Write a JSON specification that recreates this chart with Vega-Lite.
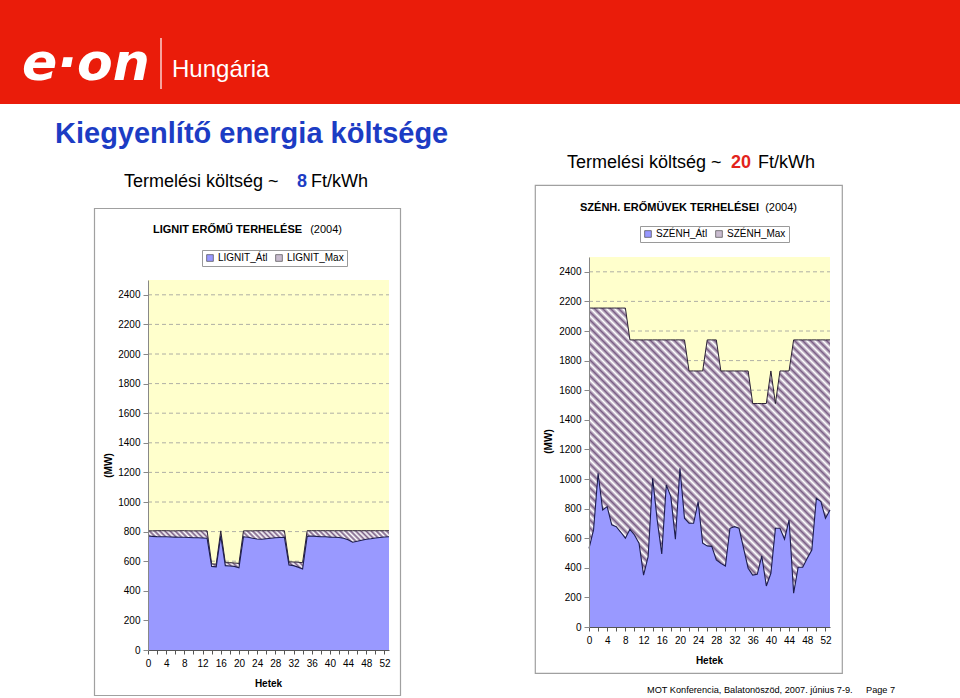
{
"$schema": "https://vega.github.io/schema/vega-lite/v6.json",
"padding": 0,
"background": "white",
"config": {
  "view": {"stroke": null},
  "font": "Liberation Sans",
  "axis": {"labelColor": "#000", "titleColor": "#000", "labelFont": "Liberation Sans", "titleFont": "Liberation Sans", "labelOverlap": false, "labelFontSize": 10, "titleFontSize": 10, "titleFontWeight": "bold", "grid": false},
  "axisX": {"domainColor": "#555", "tickColor": "#555"},
  "axisY": {"domainColor": "#888", "tickColor": "#888"},
  "legend": {"labelFont": "Liberation Sans"}
},
"datasets": {
  "lignit": [
    {"week":0,"max":805,"atl":770},{"week":1,"max":805,"atl":768},{"week":2,"max":806,"atl":766},{"week":3,"max":806,"atl":765},
    {"week":4,"max":806,"atl":765},{"week":5,"max":805,"atl":764},{"week":6,"max":805,"atl":763},{"week":7,"max":806,"atl":762},
    {"week":8,"max":806,"atl":762},{"week":9,"max":805,"atl":760},{"week":10,"max":805,"atl":758},{"week":11,"max":805,"atl":758},
    {"week":12,"max":805,"atl":757},{"week":13,"max":805,"atl":755},{"week":14,"max":582,"atl":565},{"week":15,"max":580,"atl":562},
    {"week":16,"max":805,"atl":770},{"week":17,"max":590,"atl":570},{"week":18,"max":590,"atl":568},{"week":19,"max":588,"atl":565},
    {"week":20,"max":585,"atl":555},{"week":21,"max":805,"atl":765},{"week":22,"max":805,"atl":762},{"week":23,"max":805,"atl":755},
    {"week":24,"max":806,"atl":750},{"week":25,"max":806,"atl":748},{"week":26,"max":806,"atl":752},{"week":27,"max":806,"atl":755},
    {"week":28,"max":806,"atl":758},{"week":29,"max":806,"atl":760},{"week":30,"max":806,"atl":762},{"week":31,"max":595,"atl":575},
    {"week":32,"max":595,"atl":570},{"week":33,"max":593,"atl":560},{"week":34,"max":590,"atl":548},{"week":35,"max":806,"atl":768},
    {"week":36,"max":806,"atl":770},{"week":37,"max":806,"atl":768},{"week":38,"max":806,"atl":765},{"week":39,"max":806,"atl":765},
    {"week":40,"max":806,"atl":763},{"week":41,"max":806,"atl":762},{"week":42,"max":806,"atl":760},{"week":43,"max":806,"atl":755},
    {"week":44,"max":806,"atl":745},{"week":45,"max":806,"atl":728},{"week":46,"max":806,"atl":735},{"week":47,"max":806,"atl":742},
    {"week":48,"max":806,"atl":748},{"week":49,"max":806,"atl":752},{"week":50,"max":806,"atl":757},{"week":51,"max":806,"atl":760},
    {"week":52,"max":806,"atl":763},{"week":53,"max":806,"atl":765}
  ],
  "szenh": [
    {"week":0,"max":2155,"atl":532},{"week":1,"max":2155,"atl":656},{"week":2,"max":2155,"atl":1039},{"week":3,"max":2155,"atl":791},
    {"week":4,"max":2155,"atl":813},{"week":5,"max":2155,"atl":690},{"week":6,"max":2155,"atl":678},{"week":7,"max":2155,"atl":640},
    {"week":8,"max":2155,"atl":600},{"week":9,"max":1940,"atl":660},{"week":10,"max":1940,"atl":622},{"week":11,"max":1940,"atl":566},
    {"week":12,"max":1940,"atl":351},{"week":13,"max":1940,"atl":475},{"week":14,"max":1940,"atl":1005},{"week":15,"max":1940,"atl":723},
    {"week":16,"max":1940,"atl":494},{"week":17,"max":1940,"atl":960},{"week":18,"max":1940,"atl":881},{"week":19,"max":1940,"atl":593},
    {"week":20,"max":1940,"atl":1073},{"week":21,"max":1940,"atl":735},{"week":22,"max":1730,"atl":701},{"week":23,"max":1730,"atl":701},
    {"week":24,"max":1730,"atl":847},{"week":25,"max":1730,"atl":566},{"week":26,"max":1940,"atl":548},{"week":27,"max":1940,"atl":545},
    {"week":28,"max":1940,"atl":453},{"week":29,"max":1730,"atl":430},{"week":30,"max":1730,"atl":412},{"week":31,"max":1730,"atl":667},
    {"week":32,"max":1730,"atl":678},{"week":33,"max":1730,"atl":667},{"week":34,"max":1730,"atl":532},{"week":35,"max":1730,"atl":397},
    {"week":36,"max":1510,"atl":351},{"week":37,"max":1510,"atl":356},{"week":38,"max":1510,"atl":480},{"week":39,"max":1510,"atl":277},
    {"week":40,"max":1730,"atl":363},{"week":41,"max":1510,"atl":667},{"week":42,"max":1730,"atl":667},{"week":43,"max":1730,"atl":593},
    {"week":44,"max":1730,"atl":723},{"week":45,"max":1940,"atl":228},{"week":46,"max":1940,"atl":404},{"week":47,"max":1940,"atl":404},
    {"week":48,"max":1940,"atl":464},{"week":49,"max":1940,"atl":520},{"week":50,"max":1940,"atl":870},{"week":51,"max":1940,"atl":847},
    {"week":52,"max":1940,"atl":735},{"week":53,"max":1940,"atl":791}
  ],
  "grid": [{"g":200},{"g":400},{"g":600},{"g":800},{"g":1000},{"g":1200},{"g":1400},{"g":1600},{"g":1800},{"g":2000},{"g":2200},{"g":2400}]
},
"spacing": 81,
"bounds": "flush",
"resolve": {"scale": {"color": "independent"}, "legend": {"color": "independent"}},
"vconcat": [
  {
    "width": 960, "height": 104,
    "view": {"fill": "#ea1c0a", "stroke": null},
    "layer": [
      {"data": {"values": [{}]}, "mark": {"type": "text", "text": "e·on", "font": "DejaVu Sans", "fontSize": 52, "fontWeight": "bold", "fontStyle": "italic", "color": "#ffffff", "align": "left", "baseline": "alphabetic"}, "encoding": {"x": {"value": 22}, "y": {"value": 80}}},
      {"data": {"values": [{}]}, "mark": {"type": "rule", "color": "#ffffff", "strokeWidth": 1.2}, "encoding": {"x": {"value": 161}, "y": {"value": 38}, "y2": {"value": 89}}},
      {"data": {"values": [{}]}, "mark": {"type": "text", "text": "Hungária", "fontSize": 24, "color": "#ffffff", "align": "left", "baseline": "alphabetic"}, "encoding": {"x": {"value": 172}, "y": {"value": 77}}}
    ]
  },
  {
    "spacing": 0,
    "bounds": "flush",
    "resolve": {"scale": {"color": "independent"}, "legend": {"color": "independent"}},
    "hconcat": [
      {"width": 94, "height": 1, "data": {"values": []}, "mark": "text"},
      {
        "width": 307, "height": 511,
        "layer": [
          {"data": {"values": [{}]}, "mark": {"type": "rect", "fill": "transparent", "stroke": "#a0a0a0", "strokeWidth": 1.2, "clip": false},
           "encoding": {
             "x": {"datum": -11.766, "type": "quantitative", "title": "Hetek", "scale": {"domain": [0, 53], "range": [54, 295], "nice": false, "zero": false},
               "axis": {"orient": "bottom", "offset": -46, "values": [0,2,4,6,8,10,12,14,16,18,20,22,24,26,28,30,32,34,36,38,40,42,44,46,48,50,52], "labelExpr": "datum.value % 4 === 0 ? datum.label : ''", "labelOverlap": false, "labelFlush": false, "tickSize": 4, "labelPadding": 4, "titleX": 174, "titleY": 36, "titleAlign": "center", "titleBaseline": "alphabetic", "zindex": 1}},
             "x2": {"datum": 55.529},
             "y": {"datum": -307.4, "type": "quantitative", "title": "(MW)", "scale": {"domain": [0, 2500], "range": [465, 95], "nice": false},
               "axis": {"orient": "left", "offset": -54, "values": [0,200,400,600,800,1000,1200,1400,1600,1800,2000,2200,2400], "format": "d", "tickSize": 5, "labelPadding": 3, "titleAngle": 270, "titleX": -40, "titleY": 280, "titleAlign": "center", "titleBaseline": "middle", "zindex": 1}},
             "y2": {"datum": 2983.1}}},
          {"data": {"values": [{}]}, "mark": {"type": "rect", "color": "#ffffcc"},
           "encoding": {
             "x": {"datum": 0, "type": "quantitative", "title": "Hetek",
               "axis": {"orient": "bottom", "offset": -46, "values": [0,2,4,6,8,10,12,14,16,18,20,22,24,26,28,30,32,34,36,38,40,42,44,46,48,50,52], "labelExpr": "datum.value % 4 === 0 ? datum.label : ''", "labelOverlap": false, "labelFlush": false, "tickSize": 4, "labelPadding": 4, "titleX": 174, "titleY": 36, "titleAlign": "center", "titleBaseline": "alphabetic", "zindex": 1}},
             "x2": {"datum": 53},
             "y": {"datum": 0, "type": "quantitative", "title": "(MW)",
               "axis": {"orient": "left", "offset": -54, "values": [0,200,400,600,800,1000,1200,1400,1600,1800,2000,2200,2400], "format": "d", "tickSize": 5, "labelPadding": 3, "titleAngle": 270, "titleX": -40, "titleY": 280, "titleAlign": "center", "titleBaseline": "middle", "zindex": 1}},
             "y2": {"datum": 2500}}},
          {"data": {"name": "grid"}, "mark": {"type": "rule", "color": "#9a9a9a", "strokeDash": [4,3], "strokeWidth": 0.8},
           "encoding": {
             "y": {"field": "g", "type": "quantitative", "title": "(MW)",
               "axis": {"orient": "left", "offset": -54, "values": [0,200,400,600,800,1000,1200,1400,1600,1800,2000,2200,2400], "format": "d", "tickSize": 5, "labelPadding": 3, "titleAngle": 270, "titleX": -40, "titleY": 280, "titleAlign": "center", "titleBaseline": "middle", "zindex": 1}},
             "x": {"datum": 0, "type": "quantitative", "title": "Hetek",
               "axis": {"orient": "bottom", "offset": -46, "values": [0,2,4,6,8,10,12,14,16,18,20,22,24,26,28,30,32,34,36,38,40,42,44,46,48,50,52], "labelExpr": "datum.value % 4 === 0 ? datum.label : ''", "labelOverlap": false, "labelFlush": false, "tickSize": 4, "labelPadding": 4, "titleX": 174, "titleY": 36, "titleAlign": "center", "titleBaseline": "alphabetic", "zindex": 1}},
             "x2": {"datum": 53}}},
          {"data": {"name": "lignit"},
           "mark": {"type": "area", "fill": {"gradient": "linear", "x1": 0, "y1": 1, "x2": 1.2003, "y2": 0.4023, "stops": [
{"offset":0,"color":"#fff"},{"offset":0.00714,"color":"#7b5f86"},{"offset":0.01429,"color":"#fff"},{"offset":0.02143,"color":"#7b5f86"},{"offset":0.02857,"color":"#fff"},{"offset":0.03571,"color":"#7b5f86"},{"offset":0.04286,"color":"#fff"},{"offset":0.05,"color":"#7b5f86"},{"offset":0.05714,"color":"#fff"},{"offset":0.06429,"color":"#7b5f86"},{"offset":0.07143,"color":"#fff"},{"offset":0.07857,"color":"#7b5f86"},{"offset":0.08571,"color":"#fff"},{"offset":0.09286,"color":"#7b5f86"},
{"offset":0.1,"color":"#fff"},{"offset":0.10714,"color":"#7b5f86"},{"offset":0.11429,"color":"#fff"},{"offset":0.12143,"color":"#7b5f86"},{"offset":0.12857,"color":"#fff"},{"offset":0.13571,"color":"#7b5f86"},{"offset":0.14286,"color":"#fff"},{"offset":0.15,"color":"#7b5f86"},{"offset":0.15714,"color":"#fff"},{"offset":0.16429,"color":"#7b5f86"},{"offset":0.17143,"color":"#fff"},{"offset":0.17857,"color":"#7b5f86"},{"offset":0.18571,"color":"#fff"},{"offset":0.19286,"color":"#7b5f86"},
{"offset":0.2,"color":"#fff"},{"offset":0.20714,"color":"#7b5f86"},{"offset":0.21429,"color":"#fff"},{"offset":0.22143,"color":"#7b5f86"},{"offset":0.22857,"color":"#fff"},{"offset":0.23571,"color":"#7b5f86"},{"offset":0.24286,"color":"#fff"},{"offset":0.25,"color":"#7b5f86"},{"offset":0.25714,"color":"#fff"},{"offset":0.26429,"color":"#7b5f86"},{"offset":0.27143,"color":"#fff"},{"offset":0.27857,"color":"#7b5f86"},{"offset":0.28571,"color":"#fff"},{"offset":0.29286,"color":"#7b5f86"},
{"offset":0.3,"color":"#fff"},{"offset":0.30714,"color":"#7b5f86"},{"offset":0.31429,"color":"#fff"},{"offset":0.32143,"color":"#7b5f86"},{"offset":0.32857,"color":"#fff"},{"offset":0.33571,"color":"#7b5f86"},{"offset":0.34286,"color":"#fff"},{"offset":0.35,"color":"#7b5f86"},{"offset":0.35714,"color":"#fff"},{"offset":0.36429,"color":"#7b5f86"},{"offset":0.37143,"color":"#fff"},{"offset":0.37857,"color":"#7b5f86"},{"offset":0.38571,"color":"#fff"},{"offset":0.39286,"color":"#7b5f86"},
{"offset":0.4,"color":"#fff"},{"offset":0.40714,"color":"#7b5f86"},{"offset":0.41429,"color":"#fff"},{"offset":0.42143,"color":"#7b5f86"},{"offset":0.42857,"color":"#fff"},{"offset":0.43571,"color":"#7b5f86"},{"offset":0.44286,"color":"#fff"},{"offset":0.45,"color":"#7b5f86"},{"offset":0.45714,"color":"#fff"},{"offset":0.46429,"color":"#7b5f86"},{"offset":0.47143,"color":"#fff"},{"offset":0.47857,"color":"#7b5f86"},{"offset":0.48571,"color":"#fff"},{"offset":0.49286,"color":"#7b5f86"},
{"offset":0.5,"color":"#fff"},{"offset":0.50714,"color":"#7b5f86"},{"offset":0.51429,"color":"#fff"},{"offset":0.52143,"color":"#7b5f86"},{"offset":0.52857,"color":"#fff"},{"offset":0.53571,"color":"#7b5f86"},{"offset":0.54286,"color":"#fff"},{"offset":0.55,"color":"#7b5f86"},{"offset":0.55714,"color":"#fff"},{"offset":0.56429,"color":"#7b5f86"},{"offset":0.57143,"color":"#fff"},{"offset":0.57857,"color":"#7b5f86"},{"offset":0.58571,"color":"#fff"},{"offset":0.59286,"color":"#7b5f86"},
{"offset":0.6,"color":"#fff"},{"offset":0.60714,"color":"#7b5f86"},{"offset":0.61429,"color":"#fff"},{"offset":0.62143,"color":"#7b5f86"},{"offset":0.62857,"color":"#fff"},{"offset":0.63571,"color":"#7b5f86"},{"offset":0.64286,"color":"#fff"},{"offset":0.65,"color":"#7b5f86"},{"offset":0.65714,"color":"#fff"},{"offset":0.66429,"color":"#7b5f86"},{"offset":0.67143,"color":"#fff"},{"offset":0.67857,"color":"#7b5f86"},{"offset":0.68571,"color":"#fff"},{"offset":0.69286,"color":"#7b5f86"},
{"offset":0.7,"color":"#fff"},{"offset":0.70714,"color":"#7b5f86"},{"offset":0.71429,"color":"#fff"},{"offset":0.72143,"color":"#7b5f86"},{"offset":0.72857,"color":"#fff"},{"offset":0.73571,"color":"#7b5f86"},{"offset":0.74286,"color":"#fff"},{"offset":0.75,"color":"#7b5f86"},{"offset":0.75714,"color":"#fff"},{"offset":0.76429,"color":"#7b5f86"},{"offset":0.77143,"color":"#fff"},{"offset":0.77857,"color":"#7b5f86"},{"offset":0.78571,"color":"#fff"},{"offset":0.79286,"color":"#7b5f86"},
{"offset":0.8,"color":"#fff"},{"offset":0.80714,"color":"#7b5f86"},{"offset":0.81429,"color":"#fff"},{"offset":0.82143,"color":"#7b5f86"},{"offset":0.82857,"color":"#fff"},{"offset":0.83571,"color":"#7b5f86"},{"offset":0.84286,"color":"#fff"},{"offset":0.85,"color":"#7b5f86"},{"offset":0.85714,"color":"#fff"},{"offset":0.86429,"color":"#7b5f86"},{"offset":0.87143,"color":"#fff"},{"offset":0.87857,"color":"#7b5f86"},{"offset":0.88571,"color":"#fff"},{"offset":0.89286,"color":"#7b5f86"},
{"offset":0.9,"color":"#fff"},{"offset":0.90714,"color":"#7b5f86"},{"offset":0.91429,"color":"#fff"},{"offset":0.92143,"color":"#7b5f86"},{"offset":0.92857,"color":"#fff"},{"offset":0.93571,"color":"#7b5f86"},{"offset":0.94286,"color":"#fff"},{"offset":0.95,"color":"#7b5f86"},{"offset":0.95714,"color":"#fff"},{"offset":0.96429,"color":"#7b5f86"},{"offset":0.97143,"color":"#fff"},{"offset":0.97857,"color":"#7b5f86"},{"offset":0.98571,"color":"#fff"},{"offset":0.99286,"color":"#7b5f86"},
{"offset":1,"color":"#fff"}]}},
           "encoding": {
             "x": {"field": "week", "type": "quantitative", "title": "Hetek",
               "axis": {"orient": "bottom", "offset": -46, "values": [0,2,4,6,8,10,12,14,16,18,20,22,24,26,28,30,32,34,36,38,40,42,44,46,48,50,52], "labelExpr": "datum.value % 4 === 0 ? datum.label : ''", "labelOverlap": false, "labelFlush": false, "tickSize": 4, "labelPadding": 4, "titleX": 174, "titleY": 36, "titleAlign": "center", "titleBaseline": "alphabetic", "zindex": 1}},
             "y": {"field": "max", "type": "quantitative", "title": "(MW)",
               "axis": {"orient": "left", "offset": -54, "values": [0,200,400,600,800,1000,1200,1400,1600,1800,2000,2200,2400], "format": "d", "tickSize": 5, "labelPadding": 3, "titleAngle": 270, "titleX": -40, "titleY": 280, "titleAlign": "center", "titleBaseline": "middle", "zindex": 1}}
           }},
          {"data": {"name": "lignit"}, "mark": {"type": "line", "color": "#2b2236", "strokeWidth": 1},
           "encoding": {
             "x": {"field": "week", "type": "quantitative", "title": "Hetek",
               "axis": {"orient": "bottom", "offset": -46, "values": [0,2,4,6,8,10,12,14,16,18,20,22,24,26,28,30,32,34,36,38,40,42,44,46,48,50,52], "labelExpr": "datum.value % 4 === 0 ? datum.label : ''", "labelOverlap": false, "labelFlush": false, "tickSize": 4, "labelPadding": 4, "titleX": 174, "titleY": 36, "titleAlign": "center", "titleBaseline": "alphabetic", "zindex": 1}},
             "y": {"field": "max", "type": "quantitative", "title": "(MW)",
               "axis": {"orient": "left", "offset": -54, "values": [0,200,400,600,800,1000,1200,1400,1600,1800,2000,2200,2400], "format": "d", "tickSize": 5, "labelPadding": 3, "titleAngle": 270, "titleX": -40, "titleY": 280, "titleAlign": "center", "titleBaseline": "middle", "zindex": 1}}}},
          {"data": {"name": "lignit"}, "mark": {"type": "area", "color": "#9999ff"},
           "encoding": {
             "x": {"field": "week", "type": "quantitative", "title": "Hetek",
               "axis": {"orient": "bottom", "offset": -46, "values": [0,2,4,6,8,10,12,14,16,18,20,22,24,26,28,30,32,34,36,38,40,42,44,46,48,50,52], "labelExpr": "datum.value % 4 === 0 ? datum.label : ''", "labelOverlap": false, "labelFlush": false, "tickSize": 4, "labelPadding": 4, "titleX": 174, "titleY": 36, "titleAlign": "center", "titleBaseline": "alphabetic", "zindex": 1}},
             "y": {"field": "atl", "type": "quantitative", "title": "(MW)",
               "axis": {"orient": "left", "offset": -54, "values": [0,200,400,600,800,1000,1200,1400,1600,1800,2000,2200,2400], "format": "d", "tickSize": 5, "labelPadding": 3, "titleAngle": 270, "titleX": -40, "titleY": 280, "titleAlign": "center", "titleBaseline": "middle", "zindex": 1}}}},
          {"data": {"name": "lignit"}, "mark": {"type": "line", "color": "#1d1d4d", "strokeWidth": 1.1},
           "encoding": {
             "x": {"field": "week", "type": "quantitative", "title": "Hetek",
               "axis": {"orient": "bottom", "offset": -46, "values": [0,2,4,6,8,10,12,14,16,18,20,22,24,26,28,30,32,34,36,38,40,42,44,46,48,50,52], "labelExpr": "datum.value % 4 === 0 ? datum.label : ''", "labelOverlap": false, "labelFlush": false, "tickSize": 4, "labelPadding": 4, "titleX": 174, "titleY": 36, "titleAlign": "center", "titleBaseline": "alphabetic", "zindex": 1}},
             "y": {"field": "atl", "type": "quantitative", "title": "(MW)",
               "axis": {"orient": "left", "offset": -54, "values": [0,200,400,600,800,1000,1200,1400,1600,1800,2000,2200,2400], "format": "d", "tickSize": 5, "labelPadding": 3, "titleAngle": 270, "titleX": -40, "titleY": 280, "titleAlign": "center", "titleBaseline": "middle", "zindex": 1}}}},
          {"data": {"values": [{"s": "LIGNIT_Átl"}, {"s": "LIGNIT_Max"}]}, "mark": {"type": "point", "filled": true, "opacity": 0},
           "encoding": {"color": {"field": "s", "type": "nominal",
             "scale": {"domain": ["LIGNIT_Átl", "LIGNIT_Max"], "range": ["#9999ff", "#c9bccf"]},
             "legend": {"orient": "none", "legendX": 108, "legendY": 65, "direction": "horizontal", "title": null, "symbolType": "square", "symbolSize": 45, "symbolOpacity": 1, "symbolStrokeColor": "#333", "symbolStrokeWidth": 0.6, "labelFontSize": 10, "labelColor": "#000", "columnPadding": 6, "padding": 3, "strokeColor": "#9a9a9a", "fillColor": "#ffffff", "labelOffset": 3}}}},
          {"data": {"values": [{}]}, "mark": {"type": "text", "text": "Kiegyenlítő energia költsége", "fontSize": 29, "fontWeight": "bold", "color": "#1c3cc4", "align": "left", "baseline": "alphabetic"}, "encoding": {"x": {"value": -39}, "y": {"value": -42}}},
          {"data": {"values": [{}]}, "mark": {"type": "text", "text": "Termelési költség ~", "fontSize": 18, "color": "#000", "align": "left", "baseline": "alphabetic"}, "encoding": {"x": {"value": 30}, "y": {"value": 2}}},
          {"data": {"values": [{}]}, "mark": {"type": "text", "text": "8", "fontSize": 18, "fontWeight": "bold", "color": "#1c3cc4", "align": "left", "baseline": "alphabetic"}, "encoding": {"x": {"value": 203}, "y": {"value": 2}}},
          {"data": {"values": [{}]}, "mark": {"type": "text", "text": "Ft/kWh", "fontSize": 18, "color": "#000", "align": "left", "baseline": "alphabetic"}, "encoding": {"x": {"value": 217}, "y": {"value": 2}}},
          {"data": {"values": [{}]}, "mark": {"type": "text", "text": "LIGNIT ERŐMŰ TERHELÉSE", "fontSize": 11, "fontWeight": "bold", "color": "#000", "align": "left", "baseline": "alphabetic"}, "encoding": {"x": {"value": 59}, "y": {"value": 48}}},
          {"data": {"values": [{}]}, "mark": {"type": "text", "text": "(2004)", "fontSize": 11, "color": "#000", "align": "right", "baseline": "alphabetic"}, "encoding": {"x": {"value": 248}, "y": {"value": 48}}}
        ]
      },
      {"width": 134, "height": 1, "data": {"values": []}, "mark": "text"},
      {
        "width": 307, "height": 488,
        "view": {"stroke": "#a0a0a0", "strokeWidth": 1.2, "fill": "#ffffff"},
        "layer": [
          {"data": {"values": [{}]}, "mark": {"type": "rect", "color": "#ffffcc"},
           "encoding": {
             "x": {"datum": 0, "type": "quantitative", "title": "Hetek", "scale": {"domain": [0, 53], "range": [54, 295], "nice": false, "zero": false},
               "axis": {"orient": "bottom", "offset": -46, "values": [0,2,4,6,8,10,12,14,16,18,20,22,24,26,28,30,32,34,36,38,40,42,44,46,48,50,52], "labelExpr": "datum.value % 4 === 0 ? datum.label : ''", "labelOverlap": false, "labelFlush": false, "tickSize": 4, "labelPadding": 4, "titleX": 174, "titleY": 36, "titleAlign": "center", "titleBaseline": "alphabetic", "zindex": 1}},
             "x2": {"datum": 53},
             "y": {"datum": 0, "type": "quantitative", "title": "(MW)", "scale": {"domain": [0, 2500], "range": [442, 72], "nice": false},
               "axis": {"orient": "left", "offset": -54, "values": [0,200,400,600,800,1000,1200,1400,1600,1800,2000,2200,2400], "format": "d", "tickSize": 5, "labelPadding": 3, "titleAngle": 270, "titleX": -41, "titleY": 256, "titleAlign": "center", "titleBaseline": "middle", "zindex": 1}},
             "y2": {"datum": 2500}}},
          {"data": {"name": "grid"}, "mark": {"type": "rule", "color": "#9a9a9a", "strokeDash": [4,3], "strokeWidth": 0.8},
           "encoding": {
             "y": {"field": "g", "type": "quantitative", "title": "(MW)",
               "axis": {"orient": "left", "offset": -54, "values": [0,200,400,600,800,1000,1200,1400,1600,1800,2000,2200,2400], "format": "d", "tickSize": 5, "labelPadding": 3, "titleAngle": 270, "titleX": -41, "titleY": 256, "titleAlign": "center", "titleBaseline": "middle", "zindex": 1}},
             "x": {"datum": 0, "type": "quantitative", "title": "Hetek",
               "axis": {"orient": "bottom", "offset": -46, "values": [0,2,4,6,8,10,12,14,16,18,20,22,24,26,28,30,32,34,36,38,40,42,44,46,48,50,52], "labelExpr": "datum.value % 4 === 0 ? datum.label : ''", "labelOverlap": false, "labelFlush": false, "tickSize": 4, "labelPadding": 4, "titleX": 174, "titleY": 36, "titleAlign": "center", "titleBaseline": "alphabetic", "zindex": 1}},
             "x2": {"datum": 53}}},
          {"data": {"name": "szenh"},
           "mark": {"type": "area", "fill": {"gradient": "linear", "x1": 0, "y1": 1, "x2": 0.8445, "y2": -0.1175, "stops": [
{"offset":0,"color":"#fff"},{"offset":0.00714,"color":"#7b5f86"},{"offset":0.01429,"color":"#fff"},{"offset":0.02143,"color":"#7b5f86"},{"offset":0.02857,"color":"#fff"},{"offset":0.03571,"color":"#7b5f86"},{"offset":0.04286,"color":"#fff"},{"offset":0.05,"color":"#7b5f86"},{"offset":0.05714,"color":"#fff"},{"offset":0.06429,"color":"#7b5f86"},{"offset":0.07143,"color":"#fff"},{"offset":0.07857,"color":"#7b5f86"},{"offset":0.08571,"color":"#fff"},{"offset":0.09286,"color":"#7b5f86"},
{"offset":0.1,"color":"#fff"},{"offset":0.10714,"color":"#7b5f86"},{"offset":0.11429,"color":"#fff"},{"offset":0.12143,"color":"#7b5f86"},{"offset":0.12857,"color":"#fff"},{"offset":0.13571,"color":"#7b5f86"},{"offset":0.14286,"color":"#fff"},{"offset":0.15,"color":"#7b5f86"},{"offset":0.15714,"color":"#fff"},{"offset":0.16429,"color":"#7b5f86"},{"offset":0.17143,"color":"#fff"},{"offset":0.17857,"color":"#7b5f86"},{"offset":0.18571,"color":"#fff"},{"offset":0.19286,"color":"#7b5f86"},
{"offset":0.2,"color":"#fff"},{"offset":0.20714,"color":"#7b5f86"},{"offset":0.21429,"color":"#fff"},{"offset":0.22143,"color":"#7b5f86"},{"offset":0.22857,"color":"#fff"},{"offset":0.23571,"color":"#7b5f86"},{"offset":0.24286,"color":"#fff"},{"offset":0.25,"color":"#7b5f86"},{"offset":0.25714,"color":"#fff"},{"offset":0.26429,"color":"#7b5f86"},{"offset":0.27143,"color":"#fff"},{"offset":0.27857,"color":"#7b5f86"},{"offset":0.28571,"color":"#fff"},{"offset":0.29286,"color":"#7b5f86"},
{"offset":0.3,"color":"#fff"},{"offset":0.30714,"color":"#7b5f86"},{"offset":0.31429,"color":"#fff"},{"offset":0.32143,"color":"#7b5f86"},{"offset":0.32857,"color":"#fff"},{"offset":0.33571,"color":"#7b5f86"},{"offset":0.34286,"color":"#fff"},{"offset":0.35,"color":"#7b5f86"},{"offset":0.35714,"color":"#fff"},{"offset":0.36429,"color":"#7b5f86"},{"offset":0.37143,"color":"#fff"},{"offset":0.37857,"color":"#7b5f86"},{"offset":0.38571,"color":"#fff"},{"offset":0.39286,"color":"#7b5f86"},
{"offset":0.4,"color":"#fff"},{"offset":0.40714,"color":"#7b5f86"},{"offset":0.41429,"color":"#fff"},{"offset":0.42143,"color":"#7b5f86"},{"offset":0.42857,"color":"#fff"},{"offset":0.43571,"color":"#7b5f86"},{"offset":0.44286,"color":"#fff"},{"offset":0.45,"color":"#7b5f86"},{"offset":0.45714,"color":"#fff"},{"offset":0.46429,"color":"#7b5f86"},{"offset":0.47143,"color":"#fff"},{"offset":0.47857,"color":"#7b5f86"},{"offset":0.48571,"color":"#fff"},{"offset":0.49286,"color":"#7b5f86"},
{"offset":0.5,"color":"#fff"},{"offset":0.50714,"color":"#7b5f86"},{"offset":0.51429,"color":"#fff"},{"offset":0.52143,"color":"#7b5f86"},{"offset":0.52857,"color":"#fff"},{"offset":0.53571,"color":"#7b5f86"},{"offset":0.54286,"color":"#fff"},{"offset":0.55,"color":"#7b5f86"},{"offset":0.55714,"color":"#fff"},{"offset":0.56429,"color":"#7b5f86"},{"offset":0.57143,"color":"#fff"},{"offset":0.57857,"color":"#7b5f86"},{"offset":0.58571,"color":"#fff"},{"offset":0.59286,"color":"#7b5f86"},
{"offset":0.6,"color":"#fff"},{"offset":0.60714,"color":"#7b5f86"},{"offset":0.61429,"color":"#fff"},{"offset":0.62143,"color":"#7b5f86"},{"offset":0.62857,"color":"#fff"},{"offset":0.63571,"color":"#7b5f86"},{"offset":0.64286,"color":"#fff"},{"offset":0.65,"color":"#7b5f86"},{"offset":0.65714,"color":"#fff"},{"offset":0.66429,"color":"#7b5f86"},{"offset":0.67143,"color":"#fff"},{"offset":0.67857,"color":"#7b5f86"},{"offset":0.68571,"color":"#fff"},{"offset":0.69286,"color":"#7b5f86"},
{"offset":0.7,"color":"#fff"},{"offset":0.70714,"color":"#7b5f86"},{"offset":0.71429,"color":"#fff"},{"offset":0.72143,"color":"#7b5f86"},{"offset":0.72857,"color":"#fff"},{"offset":0.73571,"color":"#7b5f86"},{"offset":0.74286,"color":"#fff"},{"offset":0.75,"color":"#7b5f86"},{"offset":0.75714,"color":"#fff"},{"offset":0.76429,"color":"#7b5f86"},{"offset":0.77143,"color":"#fff"},{"offset":0.77857,"color":"#7b5f86"},{"offset":0.78571,"color":"#fff"},{"offset":0.79286,"color":"#7b5f86"},
{"offset":0.8,"color":"#fff"},{"offset":0.80714,"color":"#7b5f86"},{"offset":0.81429,"color":"#fff"},{"offset":0.82143,"color":"#7b5f86"},{"offset":0.82857,"color":"#fff"},{"offset":0.83571,"color":"#7b5f86"},{"offset":0.84286,"color":"#fff"},{"offset":0.85,"color":"#7b5f86"},{"offset":0.85714,"color":"#fff"},{"offset":0.86429,"color":"#7b5f86"},{"offset":0.87143,"color":"#fff"},{"offset":0.87857,"color":"#7b5f86"},{"offset":0.88571,"color":"#fff"},{"offset":0.89286,"color":"#7b5f86"},
{"offset":0.9,"color":"#fff"},{"offset":0.90714,"color":"#7b5f86"},{"offset":0.91429,"color":"#fff"},{"offset":0.92143,"color":"#7b5f86"},{"offset":0.92857,"color":"#fff"},{"offset":0.93571,"color":"#7b5f86"},{"offset":0.94286,"color":"#fff"},{"offset":0.95,"color":"#7b5f86"},{"offset":0.95714,"color":"#fff"},{"offset":0.96429,"color":"#7b5f86"},{"offset":0.97143,"color":"#fff"},{"offset":0.97857,"color":"#7b5f86"},{"offset":0.98571,"color":"#fff"},{"offset":0.99286,"color":"#7b5f86"},
{"offset":1,"color":"#fff"}]}},
           "encoding": {
             "x": {"field": "week", "type": "quantitative", "title": "Hetek",
               "axis": {"orient": "bottom", "offset": -46, "values": [0,2,4,6,8,10,12,14,16,18,20,22,24,26,28,30,32,34,36,38,40,42,44,46,48,50,52], "labelExpr": "datum.value % 4 === 0 ? datum.label : ''", "labelOverlap": false, "labelFlush": false, "tickSize": 4, "labelPadding": 4, "titleX": 174, "titleY": 36, "titleAlign": "center", "titleBaseline": "alphabetic", "zindex": 1}},
             "y": {"field": "max", "type": "quantitative", "title": "(MW)",
               "axis": {"orient": "left", "offset": -54, "values": [0,200,400,600,800,1000,1200,1400,1600,1800,2000,2200,2400], "format": "d", "tickSize": 5, "labelPadding": 3, "titleAngle": 270, "titleX": -41, "titleY": 256, "titleAlign": "center", "titleBaseline": "middle", "zindex": 1}}
           }},
          {"data": {"name": "szenh"}, "mark": {"type": "line", "color": "#2b2236", "strokeWidth": 1},
           "encoding": {
             "x": {"field": "week", "type": "quantitative", "title": "Hetek",
               "axis": {"orient": "bottom", "offset": -46, "values": [0,2,4,6,8,10,12,14,16,18,20,22,24,26,28,30,32,34,36,38,40,42,44,46,48,50,52], "labelExpr": "datum.value % 4 === 0 ? datum.label : ''", "labelOverlap": false, "labelFlush": false, "tickSize": 4, "labelPadding": 4, "titleX": 174, "titleY": 36, "titleAlign": "center", "titleBaseline": "alphabetic", "zindex": 1}},
             "y": {"field": "max", "type": "quantitative", "title": "(MW)",
               "axis": {"orient": "left", "offset": -54, "values": [0,200,400,600,800,1000,1200,1400,1600,1800,2000,2200,2400], "format": "d", "tickSize": 5, "labelPadding": 3, "titleAngle": 270, "titleX": -41, "titleY": 256, "titleAlign": "center", "titleBaseline": "middle", "zindex": 1}}}},
          {"data": {"name": "szenh"}, "mark": {"type": "area", "color": "#9999ff"},
           "encoding": {
             "x": {"field": "week", "type": "quantitative", "title": "Hetek",
               "axis": {"orient": "bottom", "offset": -46, "values": [0,2,4,6,8,10,12,14,16,18,20,22,24,26,28,30,32,34,36,38,40,42,44,46,48,50,52], "labelExpr": "datum.value % 4 === 0 ? datum.label : ''", "labelOverlap": false, "labelFlush": false, "tickSize": 4, "labelPadding": 4, "titleX": 174, "titleY": 36, "titleAlign": "center", "titleBaseline": "alphabetic", "zindex": 1}},
             "y": {"field": "atl", "type": "quantitative", "title": "(MW)",
               "axis": {"orient": "left", "offset": -54, "values": [0,200,400,600,800,1000,1200,1400,1600,1800,2000,2200,2400], "format": "d", "tickSize": 5, "labelPadding": 3, "titleAngle": 270, "titleX": -41, "titleY": 256, "titleAlign": "center", "titleBaseline": "middle", "zindex": 1}}}},
          {"data": {"name": "szenh"}, "mark": {"type": "line", "color": "#1d1d4d", "strokeWidth": 1.1},
           "encoding": {
             "x": {"field": "week", "type": "quantitative", "title": "Hetek",
               "axis": {"orient": "bottom", "offset": -46, "values": [0,2,4,6,8,10,12,14,16,18,20,22,24,26,28,30,32,34,36,38,40,42,44,46,48,50,52], "labelExpr": "datum.value % 4 === 0 ? datum.label : ''", "labelOverlap": false, "labelFlush": false, "tickSize": 4, "labelPadding": 4, "titleX": 174, "titleY": 36, "titleAlign": "center", "titleBaseline": "alphabetic", "zindex": 1}},
             "y": {"field": "atl", "type": "quantitative", "title": "(MW)",
               "axis": {"orient": "left", "offset": -54, "values": [0,200,400,600,800,1000,1200,1400,1600,1800,2000,2200,2400], "format": "d", "tickSize": 5, "labelPadding": 3, "titleAngle": 270, "titleX": -41, "titleY": 256, "titleAlign": "center", "titleBaseline": "middle", "zindex": 1}}}},
          {"data": {"values": [{"s": "SZÉNH_Átl"}, {"s": "SZÉNH_Max"}]}, "mark": {"type": "point", "filled": true, "opacity": 0},
           "encoding": {"color": {"field": "s", "type": "nominal",
             "scale": {"domain": ["SZÉNH_Átl", "SZÉNH_Max"], "range": ["#9999ff", "#c9bccf"]},
             "legend": {"orient": "none", "legendX": 105, "legendY": 41, "direction": "horizontal", "title": null, "symbolType": "square", "symbolSize": 45, "symbolOpacity": 1, "symbolStrokeColor": "#333", "symbolStrokeWidth": 0.6, "labelFontSize": 10, "labelColor": "#000", "columnPadding": 6, "padding": 3, "strokeColor": "#9a9a9a", "fillColor": "#ffffff", "labelOffset": 3}}}},
          {"data": {"values": [{}]}, "mark": {"type": "text", "text": "Termelési költség ~", "fontSize": 18, "color": "#000", "align": "left", "baseline": "alphabetic"}, "encoding": {"x": {"value": 32}, "y": {"value": -17}}},
          {"data": {"values": [{}]}, "mark": {"type": "text", "text": "20", "fontSize": 18, "fontWeight": "bold", "color": "#e3231b", "align": "left", "baseline": "alphabetic"}, "encoding": {"x": {"value": 196}, "y": {"value": -17}}},
          {"data": {"values": [{}]}, "mark": {"type": "text", "text": "Ft/kWh", "fontSize": 18, "color": "#000", "align": "left", "baseline": "alphabetic"}, "encoding": {"x": {"value": 223}, "y": {"value": -17}}},
          {"data": {"values": [{}]}, "mark": {"type": "text", "text": "SZÉNH. ERŐMÜVEK TERHELÉSEI", "fontSize": 11, "fontWeight": "bold", "color": "#000", "align": "left", "baseline": "alphabetic"}, "encoding": {"x": {"value": 45}, "y": {"value": 26}}},
          {"data": {"values": [{}]}, "mark": {"type": "text", "text": "(2004)", "fontSize": 11, "color": "#000", "align": "right", "baseline": "alphabetic"}, "encoding": {"x": {"value": 262}, "y": {"value": 26}}},
          {"data": {"values": [{}]}, "mark": {"type": "text", "text": "MOT Konferencia, Balatonöszöd, 2007. június 7-9.", "fontSize": 9.2, "color": "#000", "align": "left", "baseline": "alphabetic"}, "encoding": {"x": {"value": 112}, "y": {"value": 508}}},
          {"data": {"values": [{}]}, "mark": {"type": "text", "text": "Page 7", "fontSize": 9.2, "color": "#000", "align": "left", "baseline": "alphabetic"}, "encoding": {"x": {"value": 331}, "y": {"value": 508}}}
        ]
      }
    ]
  }
]
}
